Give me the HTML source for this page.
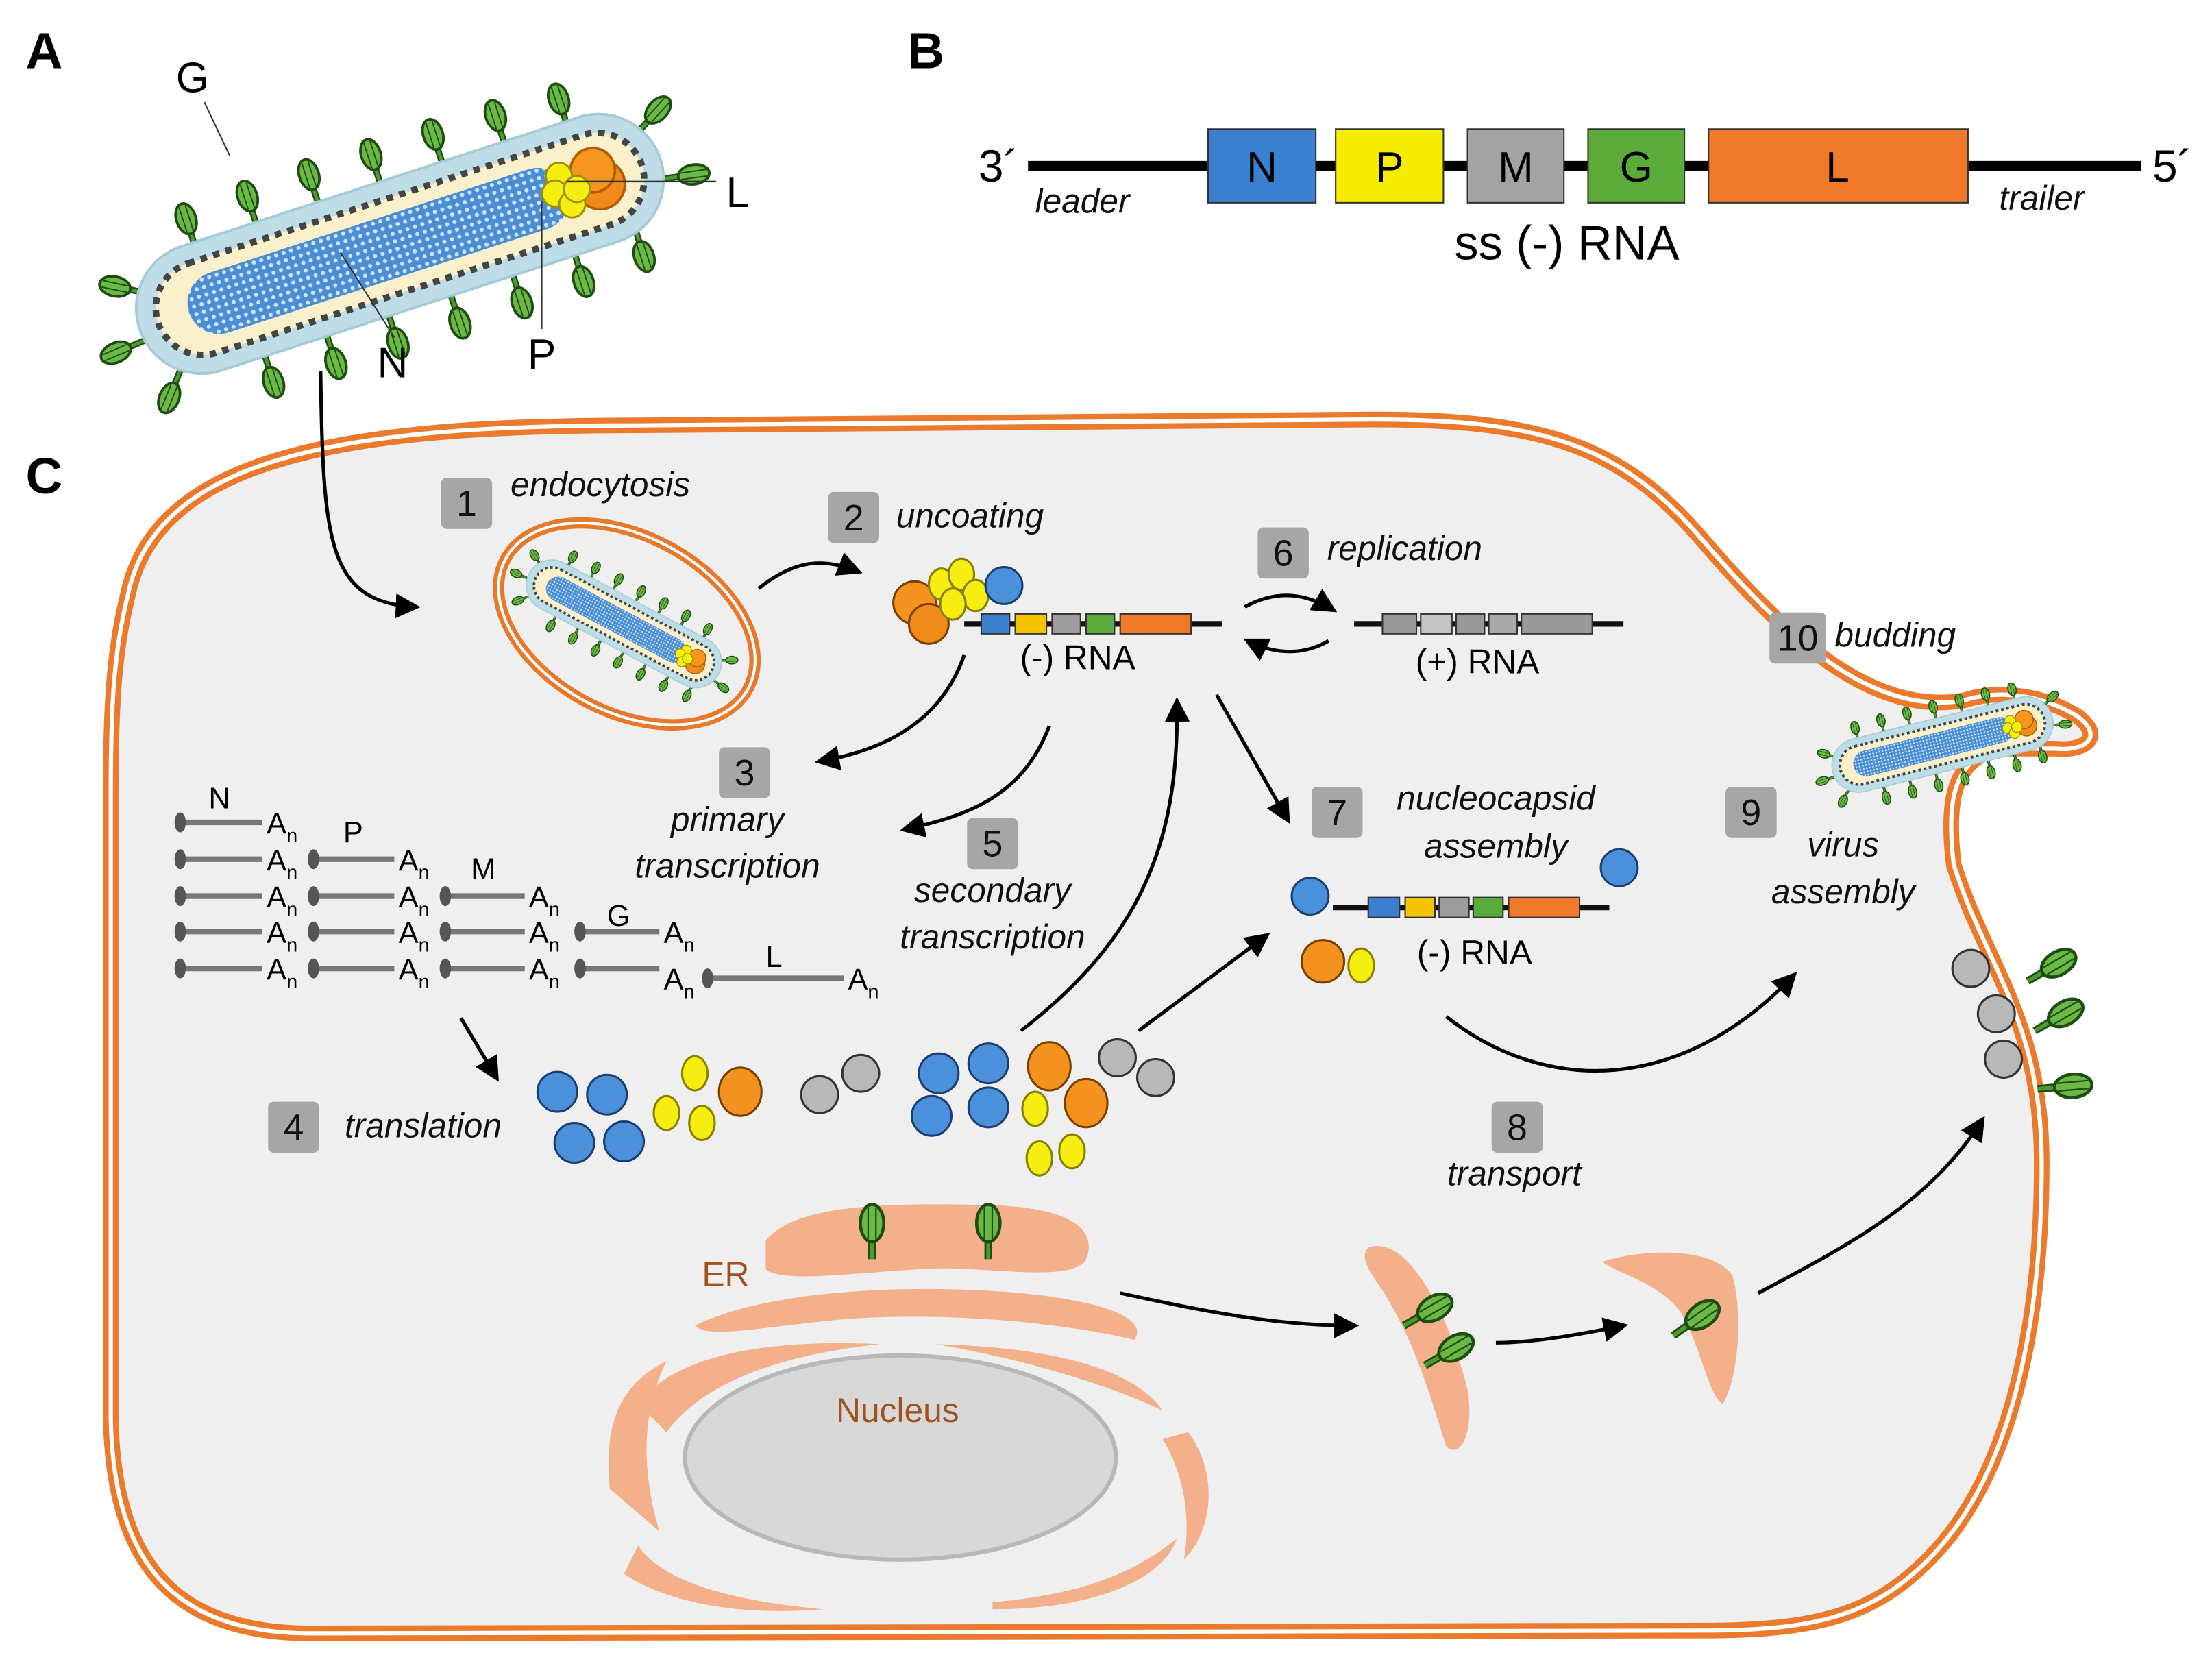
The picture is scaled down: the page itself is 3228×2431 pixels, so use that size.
<!DOCTYPE html>
<html><head><meta charset="utf-8"><style>
html,body{margin:0;padding:0;background:#fff;}
svg{display:block;}
text{font-family:"Liberation Sans",sans-serif;}
.it{font-style:italic;font-size:24px;fill:#111;}
.nb{font-size:26px;fill:#111;}
</style></head><body>
<svg width="3228" height="2431" viewBox="0 0 1560 1175" xmlns="http://www.w3.org/2000/svg">
<defs>
<pattern id="mesh" width="6" height="6" patternUnits="userSpaceOnUse">
<rect width="6" height="6" fill="#4a8fd6"/><circle cx="3" cy="3" r="1.6" fill="#cfe2f7"/>
</pattern>
<marker id="ah" viewBox="0 0 10 10" refX="8" refY="5" markerWidth="7" markerHeight="7" orient="auto">
<path d="M0,0 L10,5 L0,10 z" fill="#000"/></marker>
<g id="sp"><line x1="0" y1="0" x2="0" y2="-12" stroke="#1d4d12" stroke-width="5"/><line x1="0" y1="0" x2="0" y2="-12" stroke="#4f9a2e" stroke-width="2.5"/>
<ellipse cx="0" cy="-23" rx="7.5" ry="12" fill="#6cb844" stroke="#1d4d12" stroke-width="2"/>
<line x1="-2.5" y1="-33" x2="-2.5" y2="-13" stroke="#1d4d12" stroke-width="1"/><line x1="2.5" y1="-33" x2="2.5" y2="-13" stroke="#1d4d12" stroke-width="1"/></g>
<g id="virus">
<use href="#sp" x="-150" y="-46"/><use href="#sp" x="-100" y="-48"/><use href="#sp" x="-50" y="-49"/><use href="#sp" x="0" y="-49"/><use href="#sp" x="50" y="-49"/><use href="#sp" x="100" y="-48"/><use href="#sp" x="150" y="-45"/>
<use href="#sp" transform="translate(-125,48) rotate(180)"/><use href="#sp" transform="translate(-75,49) rotate(180)"/><use href="#sp" transform="translate(-25,49) rotate(180)"/><use href="#sp" transform="translate(25,49) rotate(180)"/><use href="#sp" transform="translate(75,49) rotate(180)"/><use href="#sp" transform="translate(125,48) rotate(180)"/><use href="#sp" transform="translate(175,44) rotate(180)"/>
<use href="#sp" transform="translate(-198,-25) rotate(-60)"/><use href="#sp" transform="translate(-210,10) rotate(-95)"/><use href="#sp" transform="translate(-190,40) rotate(-140)"/>
<use href="#sp" transform="translate(200,-25) rotate(60)"/><use href="#sp" transform="translate(208,15) rotate(100)"/>
<rect x="-210" y="-50" width="420" height="100" rx="50" fill="#bfdde6" stroke="#a5cbd6" stroke-width="2"/>
<rect x="-195" y="-36" width="390" height="72" rx="36" fill="#fbf0cc" stroke="#444" stroke-width="5" stroke-dasharray="5,5"/>
<rect x="-170" y="-24" width="305" height="48" rx="24" fill="url(#mesh)"/>
<circle cx="160" cy="4" r="19" fill="#f08a1a" stroke="#b35c00" stroke-width="2"/><circle cx="158" cy="-8" r="17" fill="#f5961e" stroke="#b35c00" stroke-width="2"/>
<circle cx="132" cy="-12" r="10" fill="#f6ee10" stroke="#9a9000" stroke-width="1.5"/><circle cx="125" cy="0" r="10" fill="#f6ee10" stroke="#9a9000" stroke-width="1.5"/><circle cx="135" cy="12" r="10" fill="#f6ee10" stroke="#9a9000" stroke-width="1.5"/><circle cx="142" cy="2" r="10" fill="#f6ee10" stroke="#9a9000" stroke-width="1.5"/>
</g>
</defs>

<text x="18" y="48" font-size="36" font-weight="bold">A</text>
<text x="640" y="48" font-size="36" font-weight="bold">B</text>
<text x="18" y="348" font-size="36" font-weight="bold">C</text>

<g transform="translate(282,172) rotate(-18) scale(0.92)"><use href="#virus"/></g>
<text x="124" y="65" font-size="30">G</text><line x1="144" y1="72" x2="162" y2="110" stroke="#333" stroke-width="1"/>
<text x="512" y="146" font-size="30">L</text><line x1="400" y1="128" x2="505" y2="128" stroke="#333" stroke-width="1.2"/>
<text x="266" y="266" font-size="30">N</text><line x1="240" y1="178" x2="278" y2="238" stroke="#333" stroke-width="1"/>
<text x="372" y="260" font-size="30">P</text><line x1="382" y1="142" x2="382" y2="232" stroke="#333" stroke-width="1"/>

<line x1="725" y1="117" x2="1510" y2="117" stroke="#000" stroke-width="7"/>
<rect x="852" y="91" width="76" height="52" fill="#3a7fd0" stroke="#333"/><text x="890" y="128" font-size="30" text-anchor="middle">N</text>
<rect x="942" y="91" width="76" height="52" fill="#f6ec00" stroke="#333"/><text x="980" y="128" font-size="30" text-anchor="middle">P</text>
<rect x="1035" y="91" width="68" height="52" fill="#a3a3a3" stroke="#333"/><text x="1069" y="128" font-size="30" text-anchor="middle">M</text>
<rect x="1120" y="91" width="68" height="52" fill="#5aab3a" stroke="#333"/><text x="1154" y="128" font-size="30" text-anchor="middle">G</text>
<rect x="1205" y="91" width="183" height="52" fill="#f07a2a" stroke="#333"/><text x="1296" y="128" font-size="30" text-anchor="middle">L</text>
<text x="690" y="128" font-size="32">3´</text><text x="1518" y="128" font-size="32">5´</text>
<text x="730" y="150" class="it">leader</text><text x="1410" y="148" class="it">trailer</text>
<text x="1105" y="183" font-size="34" text-anchor="middle">ss (-) RNA</text>

<path d="M90,420 C110,320 250,300 450,300 L950,296 C1080,294 1140,310 1200,380 C1260,450 1320,505 1385,494 C1410,486 1440,490 1465,505 C1485,520 1470,530 1450,528 L1410,528 C1380,535 1372,560 1378,610 C1400,680 1440,720 1440,820 C1440,930 1420,1040 1360,1100 C1320,1140 1280,1150 1200,1150 L220,1152 C120,1152 80,1100 78,1000 L78,560 C78,500 80,460 90,420 Z" fill="#efefef" stroke="#ec7a2c" stroke-width="11"/>
<path d="M90,420 C110,320 250,300 450,300 L950,296 C1080,294 1140,310 1200,380 C1260,450 1320,505 1385,494 C1410,486 1440,490 1465,505 C1485,520 1470,530 1450,528 L1410,528 C1380,535 1372,560 1378,610 C1400,680 1440,720 1440,820 C1440,930 1420,1040 1360,1100 C1320,1140 1280,1150 1200,1150 L220,1152 C120,1152 80,1100 78,1000 L78,560 C78,500 80,460 90,420 Z" fill="none" stroke="#fff" stroke-width="3"/>

<g fill="#f4b08a">
<path d="M540,875 C560,850 620,848 700,850 C760,852 775,870 765,890 C750,905 690,892 650,895 C600,898 550,905 540,895 Z"/>
<path d="M490,935 C540,910 640,905 720,912 C780,918 810,930 800,945 C760,935 680,925 600,930 C540,935 500,945 490,935 Z"/>
<path d="M450,990 C480,950 560,945 620,948 C560,955 500,970 470,1010 Z"/>
<path d="M660,948 C740,950 800,965 820,995 C790,980 730,960 660,948 Z"/>
<path d="M430,1050 C425,1000 440,975 470,960 C455,990 450,1030 465,1080 Z"/>
<path d="M838,1010 C860,1040 855,1080 835,1100 C840,1070 835,1040 820,1015 Z"/>
<path d="M450,1090 C470,1120 530,1130 580,1135 C520,1140 470,1130 440,1110 Z"/>
<path d="M700,1130 C760,1125 800,1110 830,1085 C820,1115 770,1135 700,1135 Z"/>
<path d="M965,880 C990,870 1020,920 1035,980 C1040,1010 1030,1030 1020,1020 C1010,990 1000,950 975,910 C962,892 960,885 965,880 Z"/>
<path d="M1130,890 C1160,880 1210,880 1222,900 C1230,930 1225,975 1215,990 C1205,985 1200,950 1185,925 C1170,905 1145,900 1130,890 Z"/>
</g>
<ellipse cx="635" cy="1028" rx="152" ry="72" fill="#d8d8d8" stroke="#b8b8b8" stroke-width="3"/>
<text x="633" y="1003" font-size="24" fill="#a0521f" text-anchor="middle">Nucleus</text>
<text x="495" y="907" font-size="24" fill="#a0521f">ER</text>

<use href="#sp" transform="translate(615,888) scale(1.1)"/>
<use href="#sp" transform="translate(697,888) scale(1.1)"/>
<use href="#sp" transform="translate(990,935) rotate(60) scale(1.1)"/>
<use href="#sp" transform="translate(1005,963) rotate(60) scale(1.1)"/>
<use href="#sp" transform="translate(1180,942) rotate(55) scale(1.1)"/>
<use href="#sp" transform="translate(1430,692) rotate(60) scale(1.1)"/>
<use href="#sp" transform="translate(1435,727) rotate(60) scale(1.1)"/>
<use href="#sp" transform="translate(1437,768) rotate(85) scale(1.1)"/>
<g fill="#b8b8b8" stroke="#333" stroke-width="1.5">
<circle cx="1390" cy="683" r="13"/><circle cx="1408" cy="715" r="13"/><circle cx="1413" cy="747" r="13"/></g>

<ellipse cx="442" cy="440" rx="97" ry="62" transform="rotate(28 442 440)" fill="none" stroke="#e6792c" stroke-width="8"/>
<ellipse cx="442" cy="440" rx="97" ry="62" transform="rotate(28 442 440)" fill="none" stroke="#fff" stroke-width="2"/>
<g transform="translate(440,440) rotate(28) scale(0.36)"><use href="#virus"/></g>

<g transform="translate(1370,525) rotate(-14) scale(0.38)"><use href="#virus"/></g>

<line x1="680" y1="440" x2="862" y2="440" stroke="#111" stroke-width="4"/>
<g stroke="#333" stroke-width="1"><rect x="692" y="433" width="20" height="14" fill="#3a7fd0"/><rect x="716" y="433" width="22" height="14" fill="#f5c400"/><rect x="742" y="433" width="20" height="14" fill="#9c9c9c"/><rect x="766" y="433" width="20" height="14" fill="#5aab3a"/><rect x="790" y="433" width="50" height="14" fill="#f07a2a"/></g>
<g stroke="#7a4000" stroke-width="1.5"><circle cx="645" cy="425" r="15" fill="#f3921e"/><circle cx="655" cy="440" r="14" fill="#f08a1a"/></g>
<g fill="#f6ee10" stroke="#8a8000" stroke-width="1.5"><ellipse cx="664" cy="412" rx="9" ry="11"/><ellipse cx="678" cy="405" rx="9" ry="11"/><ellipse cx="688" cy="420" rx="9" ry="11"/><ellipse cx="672" cy="426" rx="9" ry="11"/></g>
<circle cx="708" cy="413" r="13" fill="#4a90db" stroke="#1c3f70" stroke-width="1.5"/>
<text x="760" y="472" font-size="24" text-anchor="middle">(-) RNA</text>

<line x1="955" y1="440" x2="1145" y2="440" stroke="#111" stroke-width="4"/>
<g stroke="#333" stroke-width="1"><rect x="975" y="433" width="24" height="14" fill="#999"/><rect x="1002" y="433" width="22" height="14" fill="#c4c4c4"/><rect x="1027" y="433" width="20" height="14" fill="#999"/><rect x="1050" y="433" width="20" height="14" fill="#aaa"/><rect x="1073" y="433" width="50" height="14" fill="#999"/></g>
<text x="1042" y="475" font-size="24" text-anchor="middle">(+) RNA</text>

<line x1="940" y1="640" x2="1135" y2="640" stroke="#111" stroke-width="4"/>
<g stroke="#333" stroke-width="1"><rect x="965" y="633" width="22" height="14" fill="#3a7fd0"/><rect x="991" y="633" width="21" height="14" fill="#f5c400"/><rect x="1015" y="633" width="21" height="14" fill="#9c9c9c"/><rect x="1039" y="633" width="21" height="14" fill="#5aab3a"/><rect x="1064" y="633" width="50" height="14" fill="#f07a2a"/></g>
<g fill="#4a90db" stroke="#1c3f70" stroke-width="1.5"><circle cx="924" cy="632" r="13"/><circle cx="1142" cy="612" r="13"/></g>
<circle cx="933" cy="678" r="15" fill="#f3921e" stroke="#7a4000" stroke-width="1.5"/>
<ellipse cx="960" cy="681" rx="9" ry="12" fill="#f6ee10" stroke="#8a8000" stroke-width="1.5"/>
<text x="1040" y="680" font-size="24" text-anchor="middle">(-) RNA</text>

<g stroke="#777" stroke-width="4">
<line x1="128" y1="580" x2="185" y2="580"/>
<line x1="128" y1="606" x2="185" y2="606"/><line x1="222" y1="606" x2="278" y2="606"/>
<line x1="128" y1="632" x2="185" y2="632"/><line x1="222" y1="632" x2="278" y2="632"/><line x1="315" y1="632" x2="370" y2="632"/>
<line x1="128" y1="657" x2="185" y2="657"/><line x1="222" y1="657" x2="278" y2="657"/><line x1="315" y1="657" x2="370" y2="657"/><line x1="410" y1="657" x2="465" y2="657"/>
<line x1="128" y1="683" x2="185" y2="683"/><line x1="222" y1="683" x2="278" y2="683"/><line x1="315" y1="683" x2="370" y2="683"/><line x1="410" y1="683" x2="465" y2="683"/><line x1="500" y1="690" x2="595" y2="690"/>
</g>
<g fill="#555"><ellipse cx="127" cy="580" rx="4" ry="7"/><ellipse cx="127" cy="606" rx="4" ry="7"/><ellipse cx="127" cy="632" rx="4" ry="7"/><ellipse cx="127" cy="657" rx="4" ry="7"/><ellipse cx="127" cy="683" rx="4" ry="7"/>
<ellipse cx="221" cy="606" rx="4" ry="7"/><ellipse cx="221" cy="632" rx="4" ry="7"/><ellipse cx="221" cy="657" rx="4" ry="7"/><ellipse cx="221" cy="683" rx="4" ry="7"/>
<ellipse cx="314" cy="632" rx="4" ry="7"/><ellipse cx="314" cy="657" rx="4" ry="7"/><ellipse cx="314" cy="683" rx="4" ry="7"/>
<ellipse cx="409" cy="657" rx="4" ry="7"/><ellipse cx="409" cy="683" rx="4" ry="7"/><ellipse cx="499" cy="690" rx="4" ry="7"/></g>
<g font-size="21">
<text x="188" y="588">A<tspan font-size="14" dy="6">n</tspan></text>
<text x="188" y="614">A<tspan font-size="14" dy="6">n</tspan></text><text x="281" y="614">A<tspan font-size="14" dy="6">n</tspan></text>
<text x="188" y="640">A<tspan font-size="14" dy="6">n</tspan></text><text x="281" y="640">A<tspan font-size="14" dy="6">n</tspan></text><text x="373" y="640">A<tspan font-size="14" dy="6">n</tspan></text>
<text x="188" y="665">A<tspan font-size="14" dy="6">n</tspan></text><text x="281" y="665">A<tspan font-size="14" dy="6">n</tspan></text><text x="373" y="665">A<tspan font-size="14" dy="6">n</tspan></text><text x="468" y="665">A<tspan font-size="14" dy="6">n</tspan></text>
<text x="188" y="691">A<tspan font-size="14" dy="6">n</tspan></text><text x="281" y="691">A<tspan font-size="14" dy="6">n</tspan></text><text x="373" y="691">A<tspan font-size="14" dy="6">n</tspan></text><text x="468" y="698">A<tspan font-size="14" dy="6">n</tspan></text><text x="598" y="698">A<tspan font-size="14" dy="6">n</tspan></text>
<text x="147" y="570">N</text><text x="242" y="594">P</text><text x="332" y="620">M</text><text x="428" y="653">G</text><text x="540" y="682">L</text>
</g>

<g fill="#4a90db" stroke="#1c3f70" stroke-width="1.5"><circle cx="393" cy="770" r="14"/><circle cx="428" cy="772" r="14"/><circle cx="405" cy="806" r="14"/><circle cx="440" cy="805" r="14"/>
<circle cx="662" cy="757" r="14"/><circle cx="697" cy="750" r="14"/><circle cx="657" cy="787" r="14"/><circle cx="697" cy="781" r="14"/></g>
<g fill="#f6ee10" stroke="#8a8000" stroke-width="1.5"><ellipse cx="490" cy="757" rx="9" ry="12"/><ellipse cx="495" cy="792" rx="9" ry="12"/><ellipse cx="470" cy="785" rx="9" ry="12"/>
<ellipse cx="730" cy="782" rx="9" ry="12"/><ellipse cx="733" cy="817" rx="9" ry="12"/><ellipse cx="756" cy="812" rx="9" ry="12"/></g>
<g fill="#f3921e" stroke="#7a4000" stroke-width="1.5"><ellipse cx="522" cy="770" rx="15" ry="17"/><ellipse cx="740" cy="752" rx="15" ry="17"/><ellipse cx="766" cy="778" rx="15" ry="17"/></g>
<g fill="#b8b8b8" stroke="#333" stroke-width="1.5"><circle cx="578" cy="772" r="13"/><circle cx="607" cy="757" r="13"/><circle cx="788" cy="746" r="13"/><circle cx="815" cy="760" r="13"/></g>

<g fill="none" stroke="#000" stroke-width="2.5" marker-end="url(#ah)">
<path d="M226,262 C228,380 230,425 293,428"/>
<path d="M535,415 C560,395 580,393 605,403"/>
<path d="M680,462 C665,505 630,528 578,537"/>
<path d="M740,512 C722,560 685,575 638,585"/>
<path d="M720,727 C800,665 832,600 830,495"/>
<path d="M858,490 L908,578"/>
<path d="M878,428 C900,416 920,418 940,430"/>
<path d="M937,452 C920,462 900,462 880,452"/>
<path d="M803,727 L893,660"/>
<path d="M1020,717 C1090,772 1185,772 1265,688"/>
<path d="M325,718 L350,760"/>
<path d="M790,912 C850,925 900,935 955,935"/>
<path d="M1055,947 C1080,947 1110,942 1145,935"/>
<path d="M1240,912 C1300,880 1360,850 1398,790"/>
</g>

<g fill="#a6a6a6">
<rect x="311" y="337" width="36" height="36" rx="4"/><rect x="584" y="347" width="36" height="36" rx="4"/><rect x="507" y="527" width="36" height="36" rx="4"/>
<rect x="189" y="777" width="36" height="36" rx="4"/><rect x="682" y="577" width="36" height="36" rx="4"/><rect x="887" y="372" width="36" height="36" rx="4"/>
<rect x="925" y="555" width="36" height="36" rx="4"/><rect x="1052" y="777" width="36" height="36" rx="4"/><rect x="1217" y="555" width="36" height="36" rx="4"/><rect x="1248" y="432" width="40" height="36" rx="4"/>
</g>
<g class="nb" text-anchor="middle">
<text x="329" y="364">1</text><text x="602" y="374">2</text><text x="525" y="554">3</text><text x="207" y="804">4</text><text x="700" y="604">5</text>
<text x="905" y="399">6</text><text x="943" y="582">7</text><text x="1070" y="804">8</text><text x="1235" y="582">9</text><text x="1268" y="459">10</text>
</g>
<g class="it">
<text x="360" y="350">endocytosis</text><text x="632" y="372">uncoating</text>
<text x="513" y="586" text-anchor="middle">primary</text><text x="513" y="619" text-anchor="middle">transcription</text>
<text x="700" y="636" text-anchor="middle">secondary</text><text x="700" y="669" text-anchor="middle">transcription</text>
<text x="936" y="395">replication</text>
<text x="1055" y="571" text-anchor="middle">nucleocapsid</text><text x="1055" y="605" text-anchor="middle">assembly</text>
<text x="243" y="802">translation</text><text x="1068" y="836" text-anchor="middle">transport</text>
<text x="1300" y="604" text-anchor="middle">virus</text><text x="1300" y="637" text-anchor="middle">assembly</text>
<text x="1294" y="456">budding</text>
</g>
</svg>
</body></html>
